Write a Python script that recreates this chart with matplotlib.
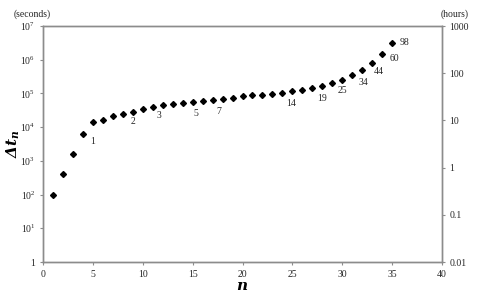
import matplotlib
matplotlib.use("Agg")
import matplotlib.pyplot as plt
from matplotlib.ticker import FixedLocator, FixedFormatter, NullLocator

plt.rcParams['font.family'] = ['Liberation Serif', 'DejaVu Serif']
plt.rcParams['mathtext.fontset'] = 'custom'
plt.rcParams['mathtext.rm'] = 'Liberation Serif'
plt.rcParams['mathtext.it'] = 'Liberation Serif:italic'
plt.rcParams['mathtext.bf'] = 'DejaVu Serif:italic:bold'

n = list(range(1, 36))
dt = [100, 400, 1600, 6400, 14500, 16300, 21400, 25000, 28800, 33900,
      39600, 44500, 48600, 52100, 54600, 58500, 62600, 67000, 73300, 82300,
      88100, 91800, 98300, 105000, 117000, 129000, 145000, 170000, 208000, 256000,
      345000, 486000, 784000, 1450000, 3200000]

# hour labels: (label, n index)
hour_labels = ["1", "2", "3", "5", "7", "14", "19", "25", "34", "44", "60", "98"]
hour_label_n = [5, 9, 12, 15, 18, 25, 28, 30, 32, 33, 34, 35]
label_offsets = [(0, -14), (0, -7), (-3, -7), (2, -8), (-3, -9), (-1, -9),
                 (0, -9), (0, -8), (1, -9), (5, -6), (9, -3), (9, 0)]

left_ticks = [1, 10, 100, 1e3, 1e4, 1e5, 1e6, 1e7]
left_ticklabels = ["1", r"$10^{1}$", r"$10^{2}$", r"$10^{3}$", r"$10^{4}$",
                   r"$10^{5}$", r"$10^{6}$", r"$10^{7}$"]
right_ticks = [0.01, 0.1, 1, 10, 100, 1000]
right_ticklabels = ["0.01", "0.1", "1", "10", "100", "1000"]
x_ticks = [0, 5, 10, 15, 20, 25, 30, 35, 40]

fig = plt.figure(figsize=(4.8, 2.94), dpi=100)
ax = fig.add_axes([43/480, 1-262/294, (442-43)/480, (262-26)/294])
spine_col = '#8c8c8c'
txt_col = '#262626'

ax.plot(n, dt, linestyle='none', marker='D', color='black', markersize=3.0)
for lab, ni, off in zip(hour_labels, hour_label_n, label_offsets):
    ax.annotate(lab, xy=(ni, dt[ni-1]), xytext=off, textcoords='offset points',
                ha='center', va='center', fontsize=7, color=txt_col)

ax.set_yscale('log')
ax.set_ylim(1, 1e7)
ax.set_xlim(0, 40)
ax.yaxis.set_major_locator(FixedLocator(left_ticks))
ax.yaxis.set_major_formatter(FixedFormatter(left_ticklabels))
ax.yaxis.set_minor_locator(NullLocator())
ax.set_xticks(x_ticks)
ax.set_xticklabels([str(t) for t in x_ticks])

ax2 = ax.twinx()
ax2.set_yscale('log')
ax2.set_ylim(0.01, 1000)
ax2.yaxis.set_major_locator(FixedLocator(right_ticks))
ax2.yaxis.set_major_formatter(FixedFormatter(right_ticklabels))
ax2.yaxis.set_minor_locator(NullLocator())

for a in (ax, ax2):
    for s in a.spines.values():
        s.set_color(spine_col)
        s.set_linewidth(1.0)
    a.tick_params(axis='both', which='major', direction='out', length=2.5,
                  width=0.8, color=spine_col, labelsize=7, labelcolor=txt_col, pad=3)

ax.set_xlabel(r"$\mathbf{n}$", fontsize=11, labelpad=1)
ax.set_ylabel(r"$\mathbf{\Delta t_n}$", fontsize=11)
ax.yaxis.set_label_coords(-0.052, 0.5)

fig.text(32/480, 1-14/294, "(seconds)", ha='center', va='center', fontsize=7, color=txt_col)
fig.text(455/480, 1-14/294, "(hours)", ha='center', va='center', fontsize=7, color=txt_col)

fig.savefig("out.png", dpi=100)
